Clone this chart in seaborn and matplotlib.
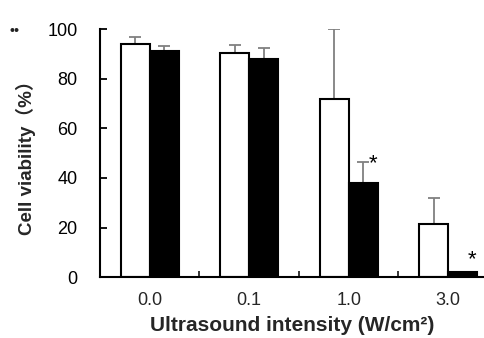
import matplotlib
matplotlib.use("Agg")
import matplotlib.pyplot as plt
import seaborn as sns
import pandas as pd
import numpy as np

# values
intensity = ["0.0", "0.1", "1.0", "3.0"]
control_mean = [94, 90.5, 72, 21.5]
control_err = [3, 3, 28, 10.5]
treated_mean = [91, 88, 38, 2]
treated_err = [2, 4.5, 8.5, 0]
stars = ["", "", "*", "*"]

df = pd.DataFrame({
    "intensity": intensity * 2,
    "viability": control_mean + treated_mean,
    "err": control_err + treated_err,
    "group": ["control"] * 4 + ["treated"] * 4,
})

sns.set_theme(style="ticks")
plt.rcParams["font.family"] = ["Liberation Sans", "Noto Sans CJK SC", "DejaVu Sans"]

fig = plt.figure(figsize=(4.85, 3.38), dpi=100)
ax = fig.add_axes([0.206, 0.180, 0.794, 0.734])

sns.barplot(data=df, x="intensity", y="viability", hue="group",
            palette=["white", "black"], edgecolor="black", linewidth=1.5,
            width=0.58, errorbar=None, legend=False, ax=ax, zorder=2)

# upward-only error bars placed on the drawn bars
bars = ax.patches[:len(df)]
for p, (_, row) in zip(bars, df.iterrows()):
    if row["err"] > 0:
        xc = p.get_x() + p.get_width() / 2
        ax.errorbar(xc, row["viability"], yerr=[[0], [row["err"]]],
                    fmt="none", ecolor="#808080", elinewidth=1.3,
                    capsize=4, capthick=1.3, zorder=1)

# significance stars next to the treated bars
for i, s in enumerate(stars):
    if s:
        top = treated_mean[i] + treated_err[i]
        ax.text(i + 0.24, top - 5 if treated_err[i] else top + 1, s,
                ha="center", va="bottom", fontsize=16, color="black")

ax.set_ylim(0, 100)
ax.set_xlim(-0.5, 3.37)
ax.set_yticks([0, 20, 40, 60, 80, 100])
ax.tick_params(axis="y", direction="in", length=5, width=1.3, pad=16,
               labelsize=13, colors="black")
ax.set_xticks(range(4))
ax.set_xticks([0.5, 1.5, 2.5], minor=True)
ax.tick_params(axis="x", which="major", length=0, pad=11, labelsize=13)
ax.tick_params(axis="x", which="minor", direction="in", length=4, width=1.3)

for side in ["top", "right"]:
    ax.spines[side].set_visible(False)
for side in ["left", "bottom"]:
    ax.spines[side].set_linewidth(1.5)
    ax.spines[side].set_color("black")

ax.set_xlabel("Ultrasound intensity (W/cm\u00b2)", fontsize=15,
              fontweight="bold", labelpad=5)
ax.set_ylabel("Cell viability\uff08%\uff09", fontsize=13.5,
              fontweight="bold", labelpad=8)

fig.text(0.02, 0.895, "\u2022\u2022", fontsize=10, fontweight="bold",
         color="#222222")

fig.savefig("out.png", dpi=100)
